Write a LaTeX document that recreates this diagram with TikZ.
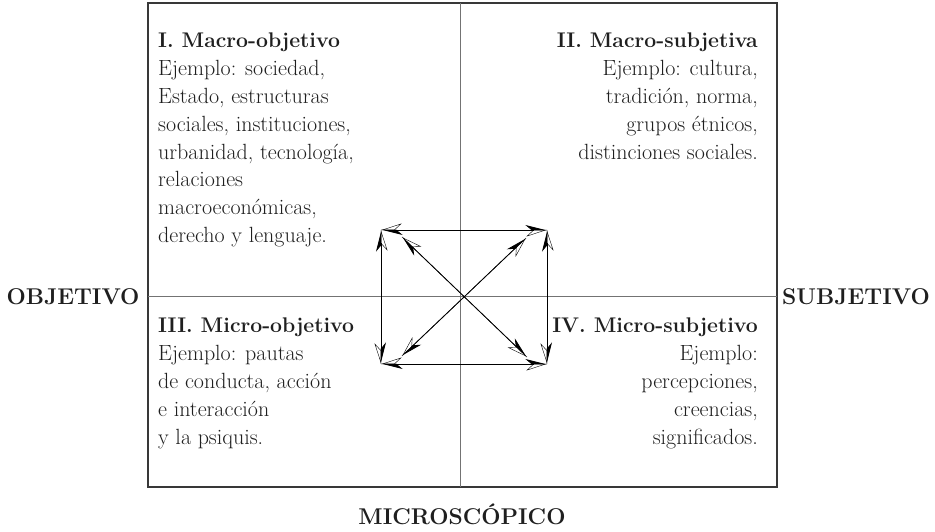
\documentclass[tikz,border=0pt]{standalone}
\usetikzlibrary{arrows.meta}
\newcommand{\qhead}[1]{{\fontsize{21.2}{27.8}\selectfont\bfseries #1}}
\begin{document}
\begin{tikzpicture}[x=1pt,y=-1pt,
  txt/.style={font=\fontsize{22}{27.8}\selectfont, inner sep=0pt, text=black!88},
  lbl/.style={font=\fontsize{22.8}{26}\selectfont\bfseries, inner sep=0pt, anchor=base, text=black!88},
  frame/.style={draw=black!78, line width=1.2pt},
  axis/.style={draw=black!55, line width=1pt},
  blkhalf/.style={line width=0.8pt, {Stealth[harpoon,length=20pt,width=10pt,inset=6pt]}-{Stealth[harpoon,length=20pt,width=10pt,inset=6pt]}},
  whthalf/.style={line width=0.5pt, {Stealth[harpoon,swap,open,length=20pt,width=13pt,inset=7pt,line width=0.4pt]}-{Stealth[harpoon,swap,open,length=20pt,width=13pt,inset=7pt,line width=0.4pt]}}
]
\useasboundingbox (0,0) rectangle (935,531);
% frame and axes
\coordinate (ftl) at (148,3);
\coordinate (fbr) at (777,487);
\coordinate (vt) at (460,3);
\coordinate (vb) at (460,487);
\coordinate (hl) at (148,296);
\coordinate (hr) at (777,296);
\draw[frame] (ftl) rectangle (fbr);
\draw[axis] (vt) -- (vb);
\draw[axis] (hl) -- (hr);

% quadrant texts
\node[txt, anchor=north west, align=left] (q1) at (158,33)
 {\qhead{I. Macro-objetivo}\\Ejemplo: sociedad,\\Estado, estructuras\\sociales, instituciones,\\urbanidad, tecnología,\\relaciones\\macroeconómicas,\\derecho y lenguaje.};
\node[txt, anchor=north east, align=right] (q2) at (758,33)
 {\qhead{II. Macro-subjetiva}\\Ejemplo: cultura,\\tradición, norma,\\grupos étnicos,\\distinciones sociales.};
\node[txt, anchor=north west, align=left] (q3) at (158,318)
 {\qhead{III. Micro-objetivo}\\Ejemplo: pautas\\de conducta, acción\\e interacción\\y la psiquis.};
\node[txt, anchor=north east, align=right] (q4) at (758,318)
 {\qhead{IV. Micro-subjetivo}\\Ejemplo:\\percepciones,\\creencias,\\significados.};

% side labels
\node[lbl] (obj) at (73,304) {OBJETIVO};
\node[lbl] (subj) at (856,304) {SUBJETIVO};
\node[lbl] (micro) at (462,524) {MICROSCÓPICO};

% arrow rectangle
\coordinate (tl) at (381,230);
\coordinate (tr) at (547,230);
\coordinate (bl) at (381,364);
\coordinate (br) at (547,364);
\coordinate (dtl) at (402,237);
\coordinate (dbr) at (527,357);
\coordinate (dtr) at (526,238);
\coordinate (dbl) at (402,356);
\foreach \a/\b in {tl/tr, bl/br, tl/bl, tr/br, dtl/dbr, dtr/dbl}{
  \draw[blkhalf] (\a) -- (\b);
  \draw[whthalf] (\a) -- (\b);
}
\end{tikzpicture}
\end{document}
